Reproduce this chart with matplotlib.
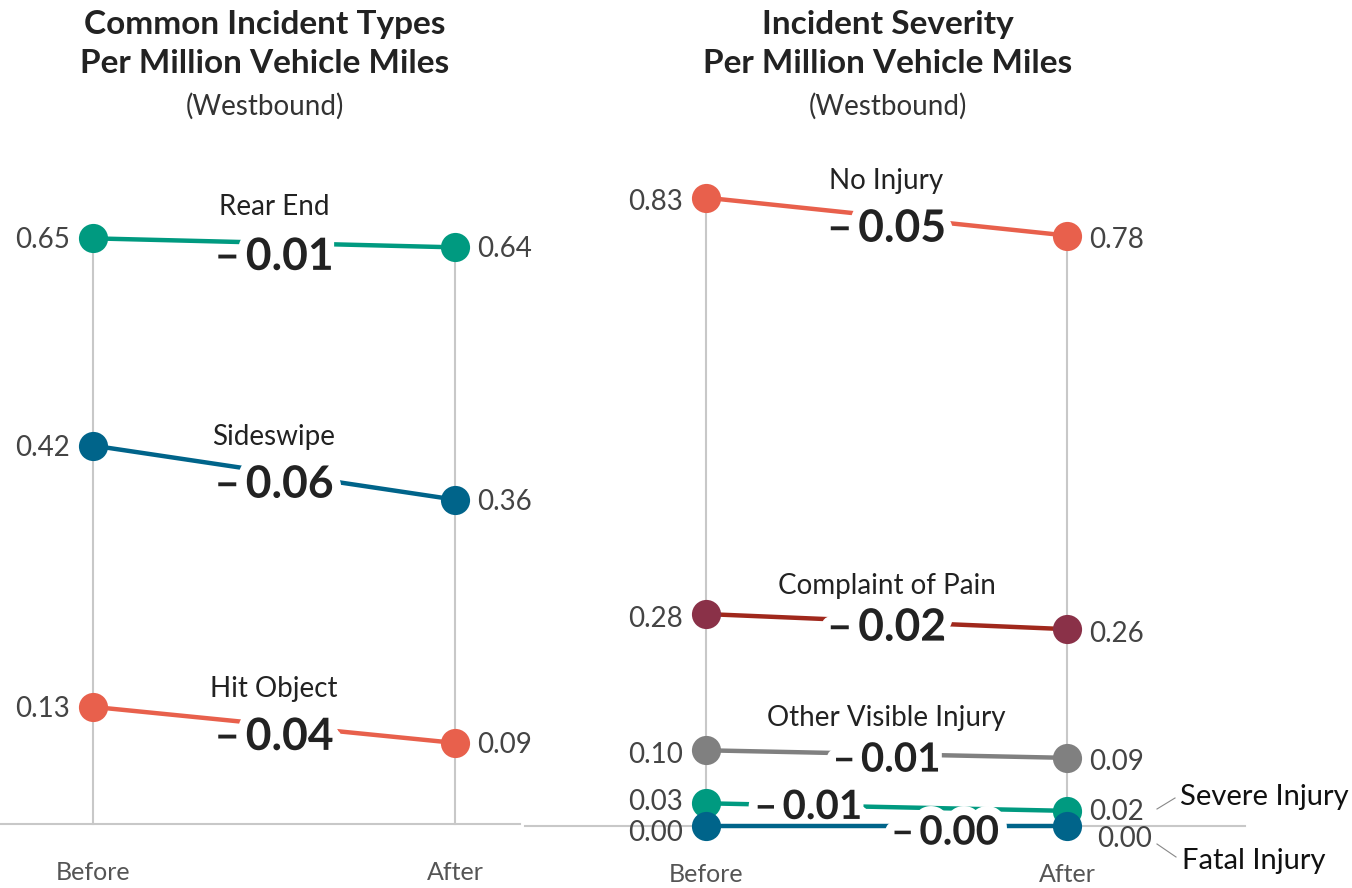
import matplotlib
matplotlib.use('Agg')
import matplotlib.pyplot as plt
import matplotlib.patheffects as pe

plt.rcParams['font.family'] = ['Lato', 'DejaVu Sans']

# Left panel: common incident types (per million vehicle miles, westbound)
types_names = ['Rear End', 'Sideswipe', 'Hit Object']
types_before = [0.65, 0.42, 0.13]
types_after = [0.64, 0.36, 0.09]
types_colors = ['#009a80', '#00648a', '#e8604c']

# Right panel: incident severity
sev_names = ['No Injury', 'Complaint of Pain', 'Other Visible Injury', 'Severe Injury', 'Fatal Injury']
sev_before = [0.83, 0.28, 0.10, 0.03, 0.00]
sev_after = [0.78, 0.26, 0.09, 0.02, 0.00]
sev_line_colors = ['#e8604c', '#a0281c', '#808080', '#009a80', '#00648a']
sev_dot_colors = ['#e8604c', '#8a3148', '#808080', '#009a80', '#00648a']

periods = ['Before', 'After']

W, H = 1352, 888
fig = plt.figure(figsize=(W / 100, H / 100), dpi=100)

GRID = '#c8c8c8'
TXT = '#222222'
VAL = '#444444'


def make_axes(x_before, x_after, y_zero, px_per_unit):
    # full-figure axes, limits chosen so that data units land on the pixel positions
    ax = fig.add_axes([0, 0, 1, 1])
    step = x_after - x_before
    ax.set_xlim(-x_before / step, (W - x_before) / step)
    ax.set_ylim(-(H - y_zero) / px_per_unit, y_zero / px_per_unit)
    ax.axis('off')
    ax.patch.set_alpha(0)
    return ax


def delta_text(b, a):
    d = a - b
    return '\u2013\u2009' + f'{abs(d):.2f}' if d <= 0 else f'+{d:.2f}'


def draw_panel(ax, names, before, after, line_cols, dot_cols, base_x, delta_sizes, delta_x, delta_dy, show_names):
    ax.plot(base_x, [0, 0], color=GRID, lw=1.5, zorder=1)
    ax.plot([0, 0], [0, max(before)], color=GRID, lw=1.5, zorder=1)
    ax.plot([1, 1], [0, max(after)], color=GRID, lw=1.5, zorder=1)
    for i, name in enumerate(names):
        b, a = before[i], after[i]
        # each series stacks on the previous one (line, then its delta label)
        ax.plot([0, 1], [b, a], color=line_cols[i], lw=3.2, zorder=2 + 2 * i, solid_capstyle='butt')
        dx = delta_x[i]
        ymid = b + (a - b) * dx
        ax.annotate(delta_text(b, a), (dx, ymid), xytext=(0, delta_dy[i]), textcoords='offset pixels',
                    ha='center', va='center', fontsize=delta_sizes[i], fontweight='bold', color=TXT,
                    zorder=3 + 2 * i, path_effects=[pe.withStroke(linewidth=13, foreground='white')])
        if show_names[i]:
            ax.annotate(name, (0.5, b + (a - b) * 0.5), xytext=(0, 36), textcoords='offset pixels',
                        ha='center', va='center', fontsize=20, color=TXT, zorder=20)
    for i in range(len(names)):
        ax.plot([0, 1], [before[i], after[i]], 'o', ms=21, color=dot_cols[i], mec='none', zorder=21)


# ---- left panel
axL = make_axes(93, 455, 824, 901)
draw_panel(axL, types_names, types_before, types_after, types_colors, types_colors,
           [-93 / 362, (520 - 93) / 362], [32, 32, 32], [0.5, 0.5, 0.5], [-14, -12, -12],
           [True, True, True])
for i in range(len(types_names)):
    axL.annotate(f'{types_before[i]:.2f}', (0, types_before[i]), xytext=(-23, -2), textcoords='offset pixels',
                 ha='right', va='center', fontsize=20, color=VAL)
    axL.annotate(f'{types_after[i]:.2f}', (1, types_after[i]), xytext=(22, -2), textcoords='offset pixels',
                 ha='left', va='center', fontsize=20, color=VAL)
for j, p in enumerate(periods):
    axL.annotate(p, (j, 0), xytext=(0, -48), textcoords='offset pixels', ha='center', va='center',
                 fontsize=18, color='#555555')

# ---- right panel
axR = make_axes(706, 1067, 826, 757)
draw_panel(axR, sev_names, sev_before, sev_after, sev_line_colors, sev_dot_colors,
           [(525 - 706) / 361, (1245 - 706) / 361], [32, 32, 29, 29, 29],
           [0.5, 0.5, 0.5, 0.283, 0.662], [-12, -6, -6, -2, -7],
           [True, True, True, False, False])
before_offsets = [(-23, -2), (-23, -2), (-23, -2), (-23, 4), (-23, -4)]
after_offsets = [(22, -2), (22, -2), (22, -2), (22, 1), (30, -10)]
for i in range(len(sev_names)):
    axR.annotate(f'{sev_before[i]:.2f}', (0, sev_before[i]), xytext=before_offsets[i], textcoords='offset pixels',
                 ha='right', va='center_baseline', fontsize=20, color=VAL, zorder=22)
    axR.annotate(f'{sev_after[i]:.2f}', (1, sev_after[i]), xytext=after_offsets[i], textcoords='offset pixels',
                 ha='left', va='center_baseline', fontsize=20, color=VAL, zorder=22)
for j, p in enumerate(periods):
    axR.annotate(p, (j, 0), xytext=(0, -48), textcoords='offset pixels', ha='center', va='center',
                 fontsize=18, color='#555555')

# leader labels for the two crowded series at the bottom
fx = lambda px: (px - 706) / 361
fy = lambda py: (826 - py) / 757
axR.text(fx(1180), fy(797), sev_names[3], ha='left', va='center', fontsize=21, color='#111111')
axR.text(fx(1182), fy(861), sev_names[4], ha='left', va='center', fontsize=21, color='#111111')
axR.plot([fx(1157), fx(1175)], [fy(809), fy(798)], color='#888888', lw=0.8)
axR.plot([fx(1157), fx(1176)], [fy(844), fy(857)], color='#888888', lw=0.8)

# ---- titles
for cx, title in [(265, 'Common Incident Types\nPer Million Vehicle Miles'),
                  (888, 'Incident Severity\nPer Million Vehicle Miles')]:
    fig.text(cx / W, 1 - 44 / H, title, ha='center', va='center', fontsize=24, fontweight='bold',
             color=TXT, linespacing=1.45)
    fig.text(cx / W, 1 - 106 / H, '(Westbound)', ha='center', va='center', fontsize=20, color='#333333')

fig.savefig('out.png', dpi=100, facecolor='white')
